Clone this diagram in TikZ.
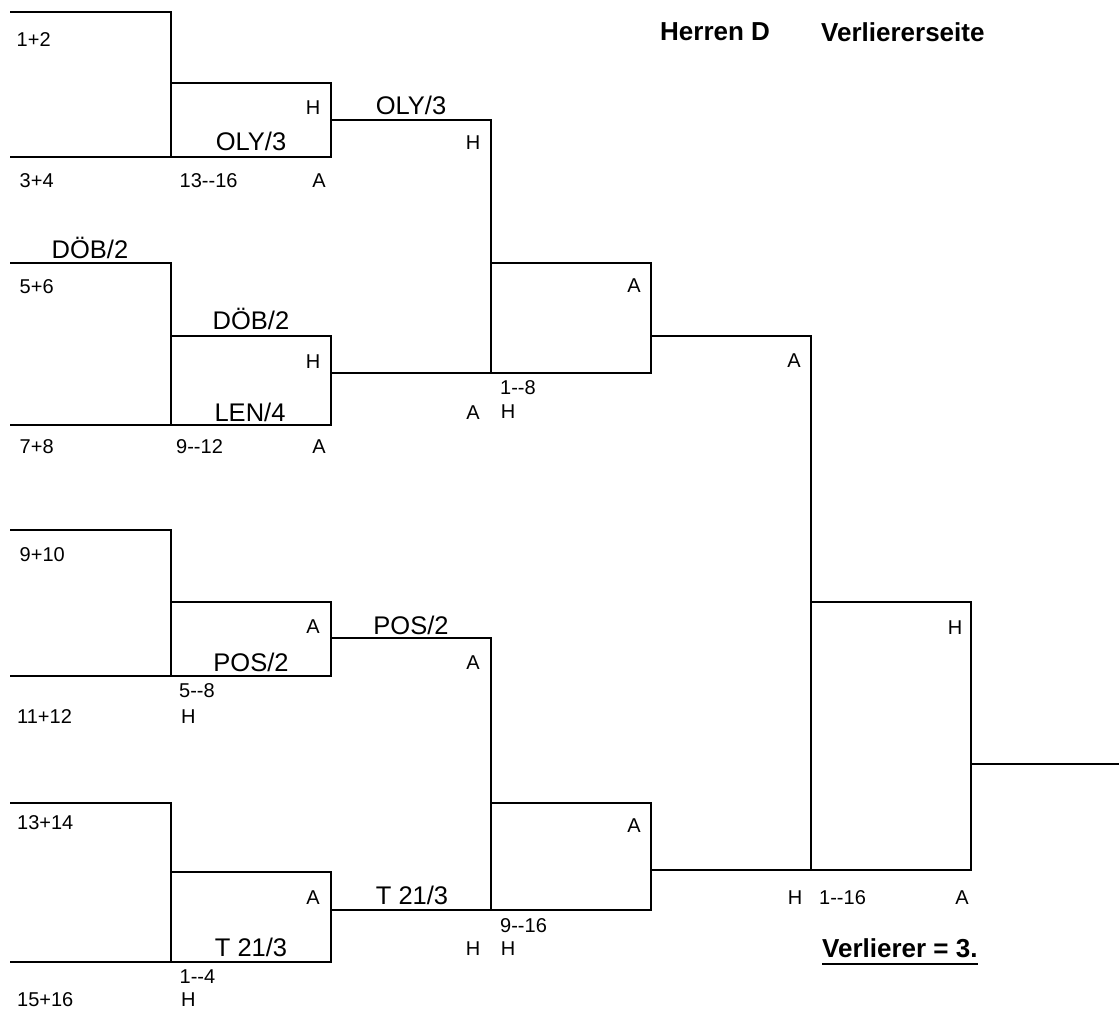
\documentclass[tikz,border=0pt]{standalone}
\usepackage{fontspec}
\newfontfamily\lsf{Liberation Sans}
\begin{document}
\begin{tikzpicture}[x=1pt,y=-1pt,
  hl/.style={line width=2.8pt,line cap=rect},
  vl/.style={line width=2.2pt,line cap=rect},
  thin/.style={line width=2pt,line cap=rect},
  sm/.style={font=\lsf\fontsize{20}{22}\selectfont,inner sep=0pt},
  lg/.style={font=\lsf\fontsize{25.5}{28}\selectfont,inner sep=0pt},
  ttl/.style={font=\lsf\bfseries\fontsize{26}{29}\selectfont,inner sep=0pt}]
\useasboundingbox (0,0) rectangle (1119,1012);
% first round groups
\foreach \i/\t/\m/\b/\o in {1/12/83/157/120, 2/263/336/425/373, 3/530/602/676/638, 4/803/872/962/910}{
  \coordinate (a\i) at (11,\t);
  \coordinate (b\i) at (171,\t);
  \coordinate (c\i) at (171,\b);
  \coordinate (d\i) at (11,\b);
  \coordinate (e\i) at (171,\m);
  \coordinate (f\i) at (331,\m);
  \coordinate (g\i) at (331,\b);
  \coordinate (o\i) at (331,\o);
  \draw[hl] (a\i) -- (b\i);
  \draw[vl] (b\i) -- (c\i);
  \draw[hl] (d\i) -- (g\i);
  \draw[hl] (e\i) -- (f\i);
  \draw[vl] (f\i) -- (g\i);
}
% second round
\coordinate (p1) at (491,120);
\coordinate (q1) at (491,373);
\coordinate (r1) at (491,263);
\coordinate (s1) at (651,263);
\coordinate (u1) at (651,373);
\coordinate (w1) at (651,336);
\coordinate (x1) at (811,336);
\coordinate (p3) at (491,638);
\coordinate (q3) at (491,910);
\coordinate (r3) at (491,803);
\coordinate (s3) at (651,803);
\coordinate (u3) at (651,910);
\coordinate (w3) at (651,870);
\coordinate (x3) at (811,870);
\coordinate (y1) at (811,602);
\coordinate (y2) at (971,602);
\coordinate (y3) at (971,870);
\coordinate (z1) at (971,764);
\coordinate (z2) at (1119,764);
\draw[thin] (o1) -- (p1);
\draw[vl] (p1) -- (q1);
\draw[hl] (r1) -- (s1);
\draw[vl] (s1) -- (u1);
\draw[hl] (o2) -- (u1);
\draw[hl] (w1) -- (x1);
\draw[thin] (o3) -- (p3);
\draw[vl] (p3) -- (q3);
\draw[hl] (r3) -- (s3);
\draw[vl] (s3) -- (u3);
\draw[hl] (o4) -- (u3);
\draw[hl] (w3) -- (y3);
\draw[vl] (x1) -- (x3);
\draw[hl] (y1) -- (y2);
\draw[vl] (y2) -- (y3);
\draw[hl] (z1) -- (z2);
% titles
\node[ttl,anchor=west] (h1) at (660,32) {Herren D};
\node[ttl,anchor=west] (h2) at (821,32) {Verliererseite};
\node[ttl,anchor=base west] (vl3) at (822,957) {Verlierer = 3.};
\draw[line width=2.2pt] ([yshift=-7pt]vl3.base west) -- ([yshift=-7pt]vl3.base east);
% large labels
\node[lg] (L1) at (411,105) {OLY/3};
\node[lg] (L2) at (251,141) {OLY/3};
\node[lg] (L3) at (90,248) {DÖB/2};
\node[lg] (L4) at (251,319) {DÖB/2};
\node[lg] (L5) at (250,412) {LEN/4};
\node[lg] (L6) at (411,625) {POS/2};
\node[lg] (L7) at (251,662) {POS/2};
\node[lg] (L8) at (412,895) {T 21/3};
\node[lg] (L9) at (251,947) {T 21/3};
% small labels, left column
\node[sm,anchor=west] (s1a) at (16.5,40) {1+2};
\node[sm,anchor=west] (s1b) at (19.5,181) {3+4};
\node[sm,anchor=west] (s2a) at (19.5,287) {5+6};
\node[sm,anchor=west] (s2b) at (19.5,447) {7+8};
\node[sm,anchor=west] (s3a) at (19.5,555) {9+10};
\node[sm,anchor=west] (s3b) at (17,717) {11+12};
\node[sm,anchor=west] (s4a) at (17,823) {13+14};
\node[sm,anchor=west] (s4b) at (17,1000) {15+16};
% ranges
\node[sm,anchor=west] (r13) at (179.5,181) {13-{}-16};
\node[sm,anchor=west] (r9) at (176,447) {9-{}-12};
\node[sm,anchor=west] (r5) at (179,691) {5-{}-8};
\node[sm,anchor=west] (r5h) at (181,717) {H};
\node[sm,anchor=west] (r1) at (179.5,977) {1-{}-4};
\node[sm,anchor=west] (r1h) at (181,1000) {H};
\node[sm,anchor=west] (r18) at (500,388) {1-{}-8};
\node[sm,anchor=west] (r916) at (500,926) {9-{}-16};
\node[sm,anchor=west] (r116) at (819,898) {1-{}-16};
% H / A markers
\node[sm] (m1) at (313,108) {H};
\node[sm] (m2) at (319,181) {A};
\node[sm] (m3) at (473,143) {H};
\node[sm] (m4) at (313,362) {H};
\node[sm] (m5) at (319,447) {A};
\node[sm] (m6) at (473,413) {A};
\node[sm] (m7) at (634,286) {A};
\node[sm] (m8) at (794,361) {A};
\node[sm] (m9) at (508,412) {H};
\node[sm] (m10) at (313,627) {A};
\node[sm] (m11) at (473,663) {A};
\node[sm] (m12) at (313,898) {A};
\node[sm] (m13) at (473,949) {H};
\node[sm] (m14) at (508,949) {H};
\node[sm] (m15) at (634,826) {A};
\node[sm] (m16) at (955,628) {H};
\node[sm] (m17) at (795,898) {H};
\node[sm] (m18) at (962,898) {A};
\end{tikzpicture}
\end{document}
